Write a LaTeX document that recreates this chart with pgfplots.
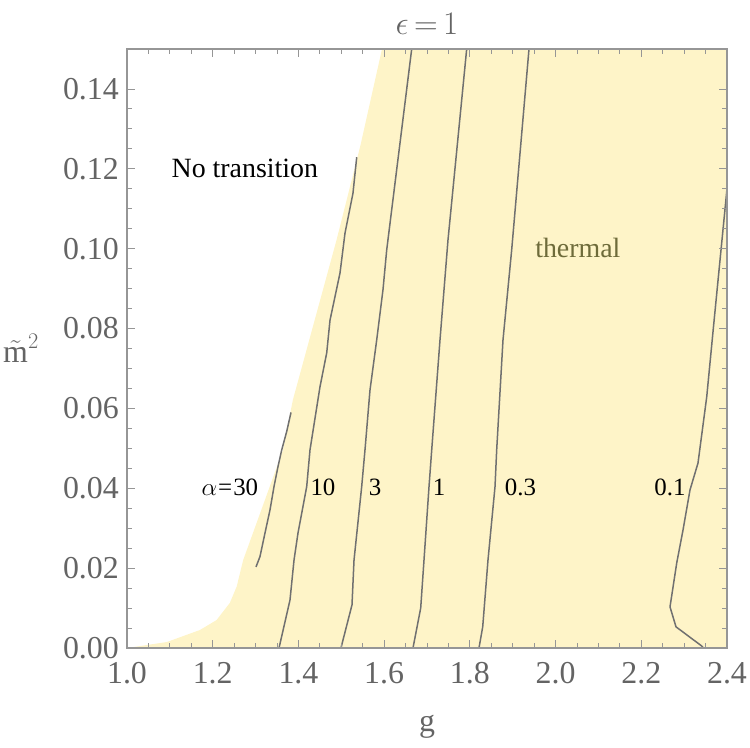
\RequirePackage{fix-cm}
\documentclass[border=0pt]{standalone}
\usepackage{amsmath}
\usepackage{fontspec}
\setmainfont{Liberation Serif}
\usepackage{pgfplots}
\pgfplotsset{compat=1.18}
\definecolor{fillY}{RGB}{254,244,200}
\definecolor{frameG}{RGB}{150,150,150}
\definecolor{tickG}{RGB}{100,100,100}
\definecolor{lineG}{RGB}{112,112,112}
\definecolor{thermalC}{RGB}{110,107,58}
\begin{document}
\begin{tikzpicture}
\begin{axis}[
  scale only axis, width=600bp, height=599bp,
  xmin=1, xmax=2.4, ymin=0, ymax=0.15,
  xtick={1.0,1.2,1.4,1.6,1.8,2.0,2.2,2.4},
  ytick={0,0.02,0.04,0.06,0.08,0.10,0.12,0.14},
  minor x tick num=3, minor y tick num=3,
  scaled x ticks=false, scaled y ticks=false,
  tick align=inside,
  major tick length=8bp, minor tick length=5bp,
  axis line style={frameG, line width=1.1bp},
  every tick/.style={frameG, line width=0.8bp},
  tick label style={font=\fontsize{32}{32}\selectfont, text=tickG},
  /pgf/number format/assume math mode=true,
  xticklabel style={anchor=base, yshift=-35bp},
  yticklabel style={anchor=east, inner sep=0pt, xshift=-8bp},
  x tick label style={/pgf/number format/fixed, /pgf/number format/fixed zerofill, /pgf/number format/precision=1},
  y tick label style={/pgf/number format/fixed, /pgf/number format/fixed zerofill, /pgf/number format/precision=2},
  axis on top,
  clip mode=individual,
]
% thermal region
\addplot[fill=fillY, draw=none] coordinates {
 (1.0,0) (1.093,0.0015) (1.170,0.0045) (1.209,0.0070) (1.240,0.0113)
 (1.256,0.0154) (1.271,0.0220) (1.364,0.0496) (1.387,0.0621)
 (1.489,0.1022) (1.545,0.126) (1.595,0.15) (2.4,0.15)} \closedcycle;
% alpha = 30
\addplot[lineG, line width=1.5bp, line join=round] coordinates {
 (1.3827,0.0590) (1.3726,0.0542) (1.3610,0.0496) (1.3523,0.0454) (1.3430,0.0404)
 (1.3337,0.0346) (1.3220,0.0288) (1.3103,0.0229) (1.3010,0.0203)};
% alpha = 10
\addplot[lineG, line width=1.5bp, line join=round] coordinates {
 (1.536,0.1229) (1.5273,0.1139) (1.5087,0.1039) (1.4970,0.0939) (1.4737,0.0821)
 (1.4660,0.0739) (1.4503,0.0654) (1.4270,0.0496) (1.4193,0.0404) (1.3990,0.0288)
 (1.3897,0.0220) (1.3803,0.0120) (1.3547,0)};
% alpha = 3
\addplot[lineG, line width=1.5bp, line join=round] coordinates {
 (1.6643,0.15) (1.6060,0.0997) (1.5973,0.0897) (1.5826,0.0771) (1.5670,0.0646)
 (1.5553,0.0496) (1.5476,0.0404) (1.5297,0.0220) (1.5250,0.0108) (1.5040,0.0020) (1.4993,0)};
% alpha = 1
\addplot[lineG, line width=1.5bp, line join=round] coordinates {
 (1.7926,0.15) (1.7490,0.1022) (1.7303,0.0771) (1.7110,0.0496) (1.7047,0.0404)
 (1.6930,0.0220) (1.6853,0.0100) (1.6673,0)};
% alpha = 0.3
\addplot[lineG, line width=1.5bp, line join=round] coordinates {
 (1.938,0.15) (1.8976,0.0997) (1.8773,0.0771) (1.8626,0.0496) (1.8587,0.0404)
 (1.8423,0.0220) (1.8300,0.0053) (1.8213,0)};
% alpha = 0.1
\addplot[lineG, line width=1.5bp, line join=round] coordinates {
 (2.4,0.1150) (2.3677,0.0796) (2.3527,0.0629) (2.3323,0.0463) (2.3137,0.0396)
 (2.2973,0.0295) (2.2827,0.0213) (2.2670,0.0103) (2.2810,0.0053) (2.3410,0.0005) (2.345,0)};
% region labels
\node[font=\fontsize{28}{28}\selectfont] at (axis cs:1.275,0.1202) {No transition};
\node[font=\fontsize{28}{28}\selectfont, text=thermalC] at (axis cs:2.052,0.1002) {thermal};
% contour labels
\node[font=\fontsize{25}{25}\selectfont] at (axis cs:1.240,0.0403) {$\alpha$\kern1bp=\kern1bp30};
\node[font=\fontsize{25}{25}\selectfont] at (axis cs:1.4573,0.0403) {10};
\node[font=\fontsize{25}{25}\selectfont] at (axis cs:1.579,0.0403) {3};
\node[font=\fontsize{25}{25}\selectfont] at (axis cs:1.728,0.0403) {1};
\node[font=\fontsize{25}{25}\selectfont] at (axis cs:1.918,0.0403) {0.3};
\node[font=\fontsize{25}{25}\selectfont] at (axis cs:2.267,0.0403) {0.1};
\end{axis}
% axis labels and title
\node[anchor=base, text=tickG, font=\fontsize{32}{32}\selectfont] at ([yshift=-83bp]current axis.south) {g};
\node[text=tickG, font=\fontsize{32}{32}\selectfont] at ([xshift=-106bp]current axis.west) {$\tilde{\text{m}}^{2}$};
\node[anchor=base, text=tickG, font=\fontsize{33}{33}\selectfont] at ([yshift=14bp]current axis.north) {$\epsilon\,{=}\,1$};
\pgfresetboundingbox
\path (current axis.south west) ++(-127bp,-100bp) rectangle ([xshift=23bp,yshift=49bp]current axis.north east);
\end{tikzpicture}
\end{document}
